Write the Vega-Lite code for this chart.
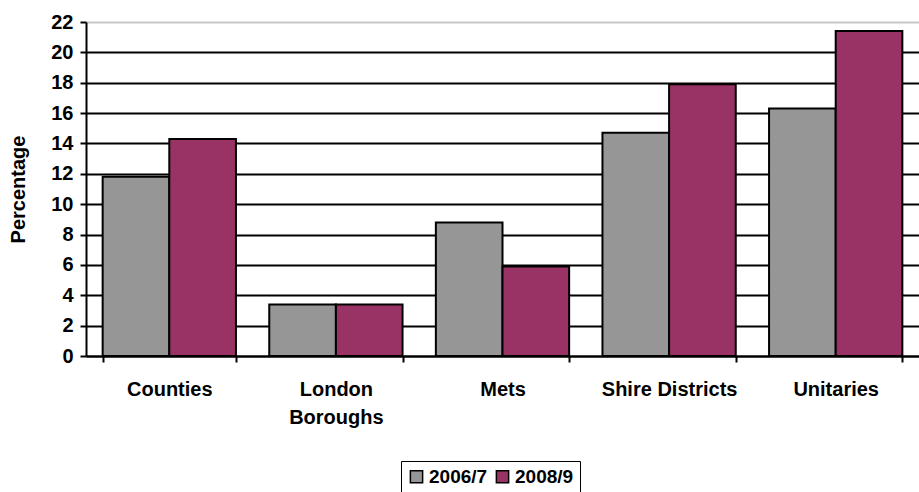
{
  "$schema": "https://vega.github.io/schema/vega-lite/v6.json",
  "autosize": {"type": "none"},
  "padding": {"left": 86, "top": 22, "right": 0, "bottom": 136},
  "width": 833,
  "height": 334,
  "background": "white",
  "config": {
    "font": "Liberation Sans",
    "view": {"stroke": null},
    "axis": {"labelFont": "Liberation Sans", "titleFont": "Liberation Sans"}
  },
  "data": {
    "values": [
      {"authority": "Counties", "year": "2006/7", "pct": 11.8},
      {"authority": "Counties", "year": "2008/9", "pct": 14.3},
      {"authority": "London Boroughs", "year": "2006/7", "pct": 3.4},
      {"authority": "London Boroughs", "year": "2008/9", "pct": 3.4},
      {"authority": "Mets", "year": "2006/7", "pct": 8.8},
      {"authority": "Mets", "year": "2008/9", "pct": 5.9},
      {"authority": "Shire Districts", "year": "2006/7", "pct": 14.7},
      {"authority": "Shire Districts", "year": "2008/9", "pct": 17.9},
      {"authority": "Unitaries", "year": "2006/7", "pct": 16.3},
      {"authority": "Unitaries", "year": "2008/9", "pct": 21.4}
    ]
  },
  "mark": {"type": "bar", "stroke": "black", "strokeWidth": 2},
  "encoding": {
    "x": {
      "field": "authority",
      "type": "nominal",
      "sort": null,
      "scale": {"paddingInner": 0.2, "paddingOuter": 0.1},
      "axis": {
        "title": null,
        "labelAngle": 0,
        "labelFontSize": 20,
        "labelFontWeight": "bold",
        "labelColor": "black",
        "labelPadding": 17,
        "labelLineHeight": 28,
        "labelExpr": "datum.label == 'London Boroughs' ? ['London', 'Boroughs'] : datum.label",
        "domainColor": "black",
        "domainWidth": 2,
        "tickColor": "black",
        "tickWidth": 2,
        "tickSize": 6,
        "tickBand": "extent",
        "grid": false
      }
    },
    "xOffset": {"field": "year", "type": "nominal", "scale": {"padding": 0}},
    "y": {
      "field": "pct",
      "type": "quantitative",
      "scale": {"domain": [0, 22], "nice": false},
      "axis": {
        "title": "Percentage",
        "titleFontSize": 20,
        "titleFontWeight": "bold",
        "titleColor": "black",
        "titlePadding": 22,
        "values": [0, 2, 4, 6, 8, 10, 12, 14, 16, 18, 20, 22],
        "labelFontSize": 20,
        "labelFontWeight": "bold",
        "labelColor": "black",
        "labelPadding": 7,
        "domainColor": "black",
        "domainWidth": 2,
        "tickColor": "black",
        "tickWidth": 2,
        "tickSize": 6,
        "grid": true,
        "gridColor": {"condition": {"test": "datum.value == 22", "value": "#c8c8c8"}, "value": "black"},
        "gridWidth": 2
      }
    },
    "fill": {
      "field": "year",
      "type": "nominal",
      "scale": {"domain": ["2006/7", "2008/9"], "range": ["#969696", "#993366"]},
      "legend": {
        "title": null,
        "orient": "none",
        "direction": "horizontal",
        "legendX": 315,
        "legendY": 439,
        "padding": 6,
        "strokeColor": "black",
        "fillColor": "white",
        "symbolType": "square",
        "symbolSize": 150,
        "symbolStrokeColor": "black",
        "symbolStrokeWidth": 1.5,
        "symbolOpacity": 1,
        "labelFontSize": 19,
        "labelFontWeight": "bold",
        "labelColor": "black",
        "labelOffset": 3,
        "columnPadding": 5
      }
    }
  }
}
